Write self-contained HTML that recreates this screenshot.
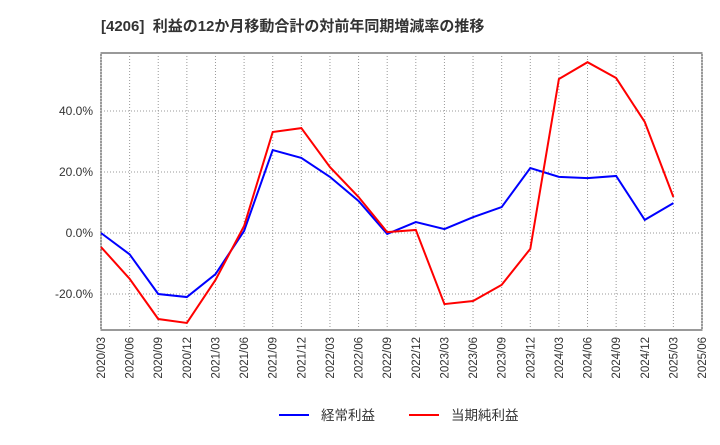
<!DOCTYPE html>
<html><head><meta charset="utf-8"><style>
body{margin:0;background:#fff;font-family:"Liberation Sans","Noto Sans CJK JP",sans-serif}
</style></head><body>
<svg id="c" width="720" height="440" xmlns="http://www.w3.org/2000/svg">
<text x="101" y="31" font-size="15" font-weight="bold" fill="#333" font-family="Liberation Sans, Noto Sans CJK JP, sans-serif">[4206]&#160;&#160;利益の12か月移動合計の対前年同期増減率の推移</text>
<rect x="101" y="53" width="601" height="277" fill="none" stroke="#333" stroke-width="1"/>
<g id="grid"></g><g id="yt"></g><g id="xt"></g><g id="series"></g>
<g>
<line x1="279" y1="415" x2="309" y2="415" stroke="#0000ff" stroke-width="2"/>
<text x="321" y="420" font-size="13.5" fill="#333">経常利益</text>
<line x1="409" y1="415" x2="439" y2="415" stroke="#ff0000" stroke-width="2"/>
<text x="451" y="420" font-size="13.5" fill="#333">当期純利益</text>
</g>
</svg>
<script>
const categories=["2020/03","2020/06","2020/09","2020/12","2021/03","2021/06","2021/09","2021/12","2022/03","2022/06","2022/09","2022/12","2023/03","2023/06","2023/09","2023/12","2024/03","2024/06","2024/09","2024/12","2025/03","2025/06"];
const ordinaryValues=[0,-7,-20,-21,-13.5,0.7,27.2,24.6,18.4,10.5,-0.3,3.6,1.3,5.2,8.5,21.3,18.4,18.0,18.7,4.3,9.8];
const netValues=[-4.6,-15,-28.2,-29.5,-15.4,2.3,33.1,34.4,21.6,11.8,0.3,1,-23.3,-22.3,-17,-5.2,50.5,56,50.8,36.4,11.8];
const yTicks=[-20,0,20,40];
const NS="http://www.w3.org/2000/svg";
const x0=101,x1=702,yZero=233,pxPer=61/20;
function xs(i){return x0+(x1-x0)*i/(categories.length-1);}
function ys(v){return yZero-v*pxPer;}
function mk(t,a,p){const e=document.createElementNS(NS,t);for(const k in a)e.setAttribute(k,a[k]);p.appendChild(e);return e;}
const grid=document.getElementById('grid'),yt=document.getElementById('yt'),xt=document.getElementById('xt'),ser=document.getElementById('series');
categories.forEach((c,i)=>{
 const l=mk('line',{x1:xs(i),x2:xs(i),y1:53,y2:330,stroke:'#999','stroke-dasharray':'1,2','stroke-width':1},grid);
 
 
 const t=mk('text',{x:0,y:0,'font-size':11.5,fill:'#333','text-anchor':'end',transform:`translate(${xs(i)+4},337) rotate(-90)`},xt);
 t.textContent=c;
 
 
});
yTicks.forEach(v=>{
 const l=mk('line',{x1:101,x2:702,y1:ys(v),y2:ys(v),stroke:'#999','stroke-dasharray':'1,2','stroke-width':1},grid);
 
 
 const t=mk('text',{x:93,y:ys(v)+4,'font-size':12,fill:'#333','text-anchor':'end'},yt);
 t.textContent=v.toFixed(1)+'%';
 
 
});
function line(vals,color,name){
 const p=mk('polyline',{points:vals.map((v,i)=>xs(i)+','+ys(v)).join(' '),fill:'none',stroke:color,'stroke-width':2},ser);
 
 
}
line(ordinaryValues,'#0000ff','ordinary-profit-line');
line(netValues,'#ff0000','net-profit-line');
</script>
</body></html>
